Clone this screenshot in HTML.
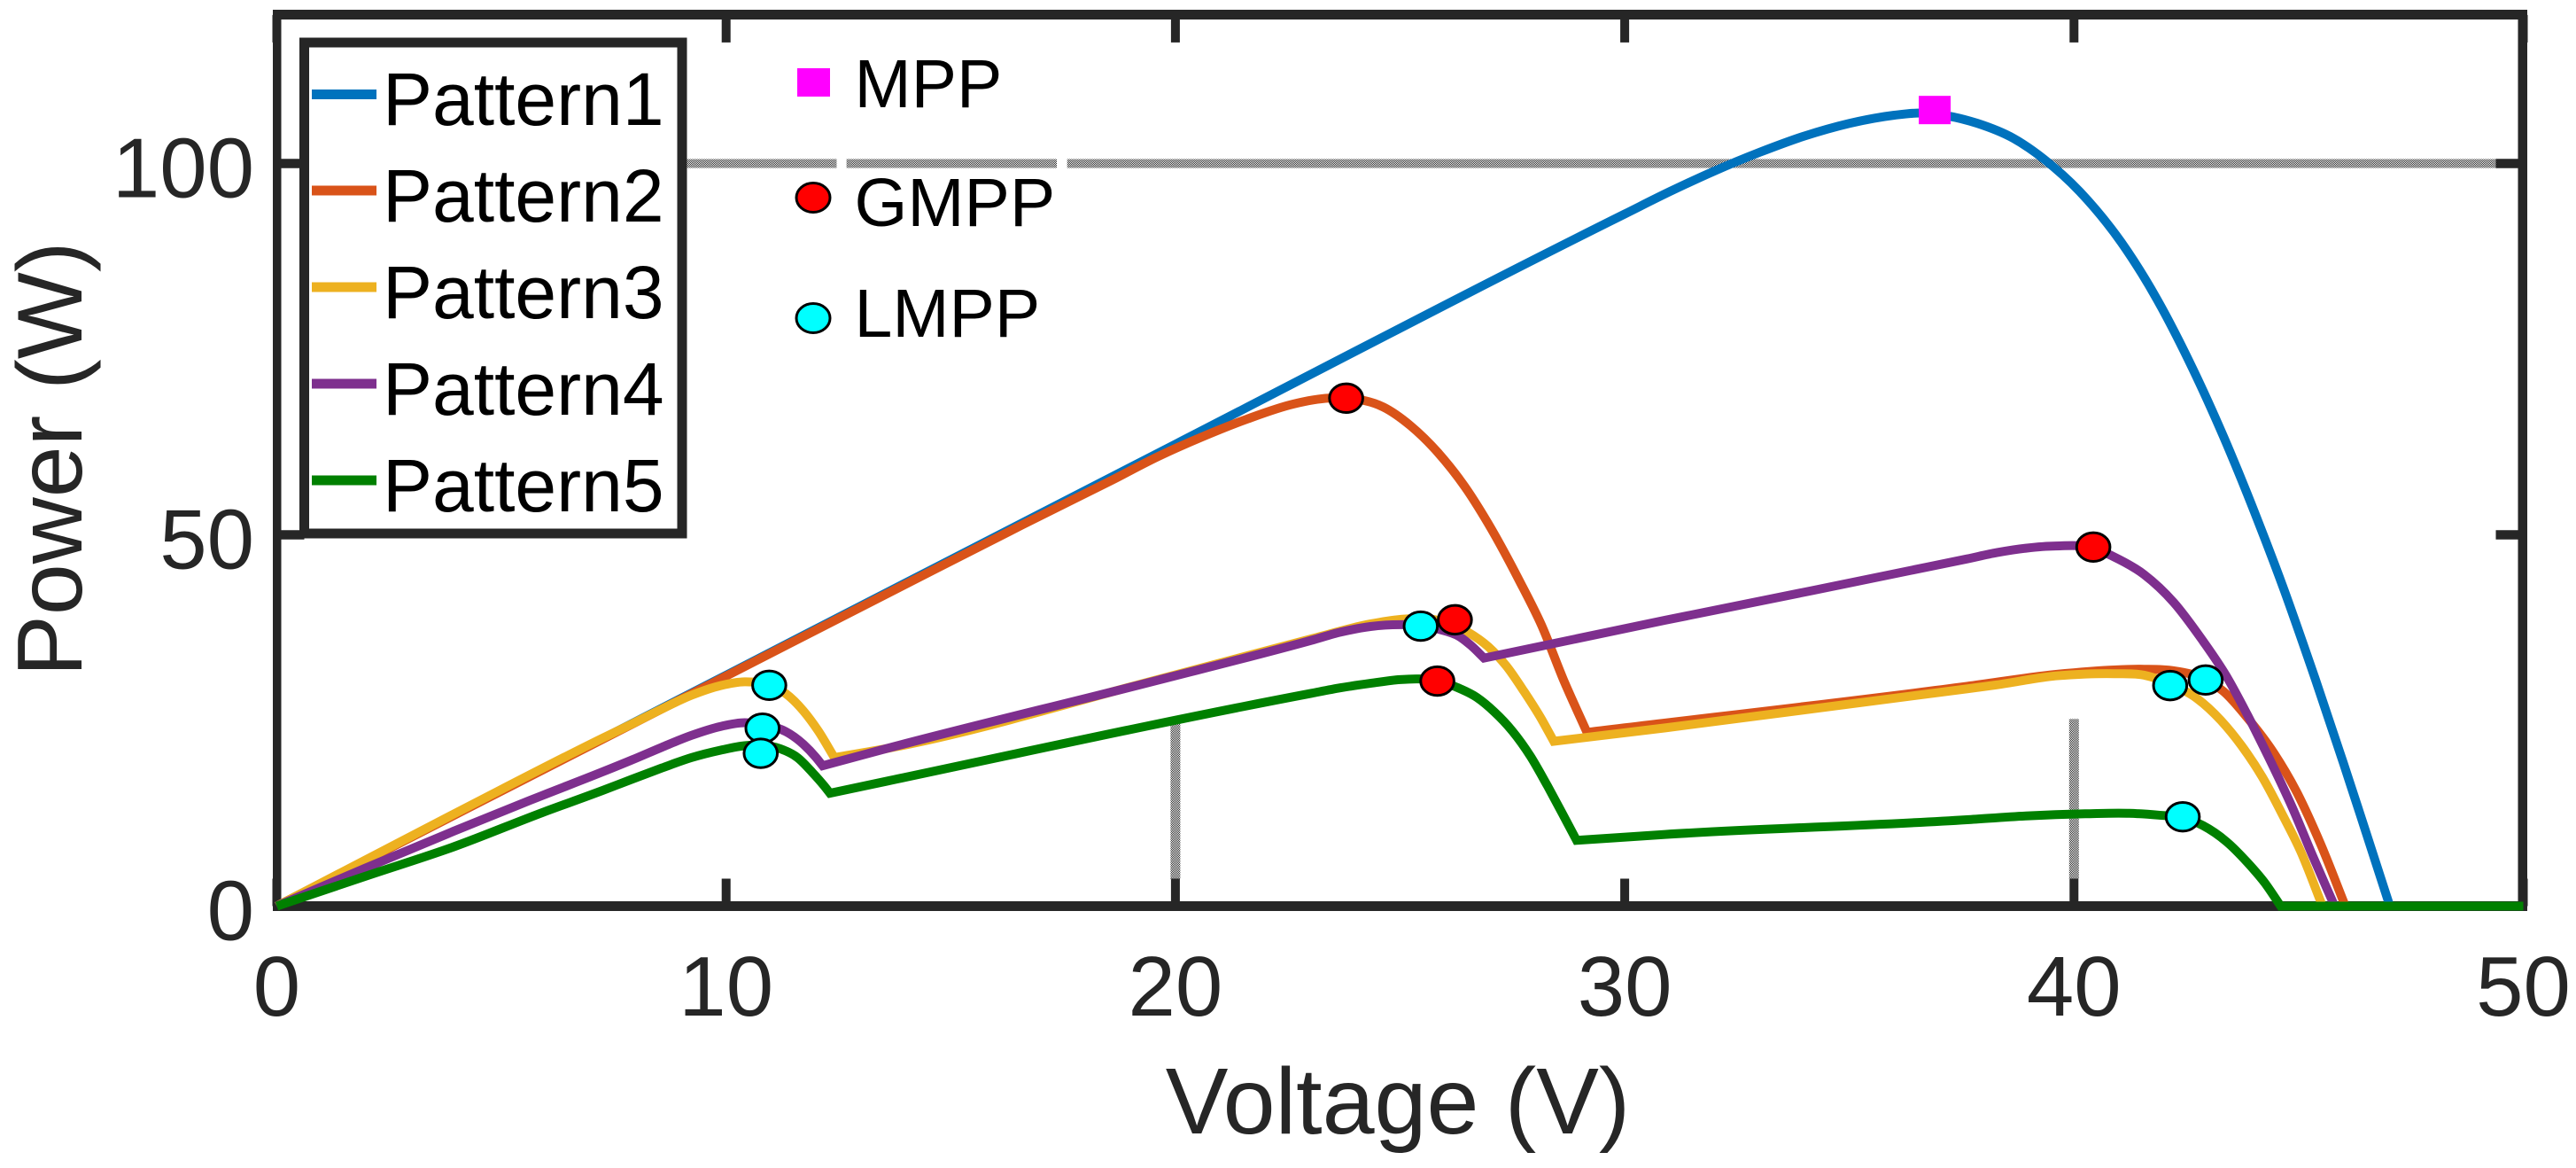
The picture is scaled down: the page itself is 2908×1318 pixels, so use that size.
<!DOCTYPE html>
<html lang="en">
<head>
<meta charset="utf-8">
<title>Power vs Voltage</title>
<style>
html,body{margin:0;padding:0;background:#fff;width:2908px;height:1318px;overflow:hidden}
svg{display:block;font-family:"Liberation Sans",Arial,sans-serif}
</style>
</head>
<body>
<svg id="chart" xmlns="http://www.w3.org/2000/svg" width="2908" height="1318" viewBox="0 0 2908 1318">
<defs>
<pattern id="dither" patternUnits="userSpaceOnUse" width="2" height="2">
<rect width="2" height="2" fill="#fff"/>
<rect width="1" height="1" fill="#262626"/>
<rect x="1" y="1" width="1" height="1" fill="#262626"/>
</pattern>
</defs>
<rect width="2908" height="1318" fill="#fff"/>
<g id="grid"></g>
<g id="ticks"></g>
<g id="frame"></g>
<g id="tickLabels" font-size="96" fill="#262626"></g>
<text x="1578" y="1279" font-size="106" fill="#262626" text-anchor="middle">Voltage (V)</text>
<text transform="translate(92,518) rotate(-90)" font-size="104" fill="#262626" text-anchor="middle">Power (W)</text>
<g id="series"></g>
<g id="markers"></g>
<g>
<rect x="343.5" y="48" width="426.5" height="554" fill="#fff" stroke="#262626" stroke-width="11"/>
<rect x="352" y="101" width="73" height="11" fill="#0072BD"/>
<rect x="352" y="209.5" width="73" height="11" fill="#D95319"/>
<rect x="352" y="318.5" width="73" height="11" fill="#EDB120"/>
<rect x="352" y="427.5" width="73" height="11" fill="#7E2F8E"/>
<rect x="352" y="536.5" width="73" height="11" fill="#008000"/>
<g font-size="84" fill="#000">
<text x="432" y="141">Pattern1</text>
<text x="432" y="250">Pattern2</text>
<text x="432" y="359">Pattern3</text>
<text x="432" y="468">Pattern4</text>
<text x="432" y="577">Pattern5</text>
</g>
</g>
<g>
<rect x="900" y="77" width="37" height="32" fill="#FF00FF"/>
<ellipse cx="918" cy="223" rx="19" ry="16.5" fill="#FF0000" stroke="#000" stroke-width="3"/>
<ellipse cx="918" cy="359" rx="19" ry="16.5" fill="#00FFFF" stroke="#000" stroke-width="3"/>
<g font-size="77" fill="#000">
<text x="964.5" y="121">MPP</text>
<text x="964.5" y="255">GMPP</text>
<text x="964.5" y="380">LMPP</text>
</g>
</g>
</svg>
<script>
const xTicks = [0, 10, 20, 30, 40, 50];
const yTicks = [0, 50, 100];
const xTickLabels = ["0", "10", "20", "30", "40", "50"];
const yTickLabels = ["0", "50", "100"];

const vPattern1 = [0, 10, 20, 30, 31, 32, 33, 34, 35, 36, 36.6, 37.2, 37.85, 38.65, 39.33, 40.13, 41.05, 41.85, 42.64, 43.33, 44.06, 44.68, 45.38, 46, 46.49, 47.03, 50];
const pPattern1 = [0, 31.1, 62.2, 93.2, 96.2, 99, 101.5, 103.7, 105.4, 106.5, 106.8, 106.4, 105.4, 103.4, 100.6, 96.2, 89.4, 81.7, 72.4, 63.2, 52.4, 42.5, 30.4, 19.2, 10.1, 0, 0];
const kinksPattern1 = [47.03];

const vPattern2 = [0, 13.56, 16.58, 18.6, 19.6, 20.6, 21.6, 22.62, 23.42, 23.8, 24.63, 25.23, 25.84, 26.44, 27.04, 27.64, 28.15, 28.65, 29.16, 37.62, 39.6, 40.9, 41.56, 42.22, 42.93, 43.33, 43.86, 44.45, 44.97, 45.5, 46.04, 50];
const pPattern2 = [0, 42, 51.3, 57.4, 60.5, 63.2, 65.6, 67.6, 68.4, 68.4, 67.2, 64.7, 61.1, 56.5, 50.7, 44, 37.8, 30.3, 23.4, 29.6, 31.2, 31.8, 31.9, 31.7, 30.5, 28.9, 25.35, 20.6, 15.2, 8.2, 0, 0];
const kinksPattern2 = [29.16, 46.04];

const vPattern3 = [0, 3.94, 7.26, 7.91, 8.57, 9.23, 9.88, 10.41, 10.96, 11.33, 11.72, 12.05, 12.41, 13.56, 19.6, 23.03, 24.34, 25, 25.6, 26.1, 26.51, 26.97, 27.37, 27.76, 28.15, 28.42, 30.9, 37.62, 38.28, 39.59, 40.25, 40.9, 41.56, 42.14, 42.74, 43.27, 43.73, 44.19, 44.65, 45.04, 45.53, 50];
const pPattern3 = [0, 12.4, 22.65, 24.56, 26.55, 28.4, 29.7, 30.2, 29.74, 28.6, 26.3, 23.6, 20, 21.2, 30.5, 36, 38, 38.6, 38.7, 38.1, 36.9, 34.9, 32.3, 28.9, 25.15, 22.2, 24, 29.26, 29.8, 31, 31.25, 31.3, 31.1, 29.9, 27.95, 25, 21.6, 17.4, 12.2, 7.46, 0, 0];
const kinksPattern3 = [12.41, 28.42, 45.53];

const vPattern4 = [0, 1.96, 3.94, 5.91, 7.26, 7.91, 8.57, 9.23, 9.88, 10.41, 10.81, 11.33, 11.72, 11.99, 12.15, 13.56, 19.6, 23.03, 23.68, 24.34, 25, 25.46, 25.85, 26.32, 26.58, 26.87, 30.9, 37.62, 38.28, 38.93, 39.59, 40.43, 40.9, 41.56, 42.22, 42.87, 43.4, 43.86, 44.32, 44.85, 45.31, 45.8, 50];
const pPattern4 = [0, 5.1, 10.1, 14.9, 18.1, 19.7, 21.4, 23, 24.2, 24.7, 24.4, 23.5, 21.8, 20.1, 18.9, 21.2, 30.4, 35.8, 36.9, 37.65, 37.9, 37.8, 37.3, 36.3, 35.1, 33.4, 38.5, 46.75, 47.6, 48.2, 48.5, 48.2, 47, 44.65, 40.9, 35.7, 30.9, 25.75, 20.2, 13.4, 6.8, 0, 0];
const kinksPattern4 = [12.15, 26.87, 45.8];

const vPattern5 = [0, 1.96, 3.94, 5.91, 7.26, 7.91, 8.57, 9.23, 9.88, 10.41, 10.77, 11.2, 11.59, 11.92, 12.18, 12.31, 13.56, 23.03, 23.68, 24.34, 25, 25.4, 25.83, 26.25, 26.71, 27.1, 27.5, 27.9, 28.28, 28.61, 28.93, 30.9, 37.62, 38.93, 40.25, 41.23, 41.88, 42.42, 42.87, 43.4, 43.86, 44.25, 44.6, 50];
const pPattern5 = [0, 4, 8, 12.6, 15.6, 17.1, 18.6, 20, 21, 21.6, 21.7, 21.2, 20, 18, 16.2, 15.2, 16.8, 28.66, 29.4, 30, 30.5, 30.6, 30.4, 29.5, 28.1, 26.15, 23.57, 20.2, 16.2, 12.5, 8.85, 9.65, 11.63, 12.15, 12.43, 12.5, 12.25, 11.9, 10.85, 8.65, 5.87, 3.1, 0, 0];
const kinksPattern5 = [12.31, 28.93, 44.6];

const mppV = [36.9];
const mppP = [107.2];
const gmppV = [23.8, 26.22, 25.83, 40.43];
const gmppP = [68.4, 38.56, 30.3, 48.35];
const lmppV = [10.96, 10.81, 10.77, 25.46, 42.14, 42.93, 42.42];
const lmppP = [29.74, 23.96, 20.58, 37.7, 29.7, 30.45, 12.03];

const gridY100Starts = [9.13, 12.68, 17.59];
const gridY100Ends = [12.46, 17.36, 49.39];
const gridVerticalV = [20, 40];
const gridVerticalTopP = [25.2, 25.2];

const NS = "http://www.w3.org/2000/svg";
const X0 = 312.5, XU = 50.72, Y0 = 1022.5, YU = 8.38;
function xs(v) { return X0 + XU * v; }
function ys(p) { return Y0 - YU * p; }
function mk(tag, parent) {
  const el = document.createElementNS(NS, tag);
  parent.appendChild(el);
  return el;
}

const gridG = document.getElementById("grid");
gridY100Starts.forEach(function (s, i) {
  const r = mk("rect", gridG);
  
  
  r.setAttribute("x", xs(s));
  r.setAttribute("y", ys(100) - 5);
  r.setAttribute("width", xs(gridY100Ends[i]) - xs(s));
  r.setAttribute("height", 10);
  r.setAttribute("fill", "url(#dither)");
});
gridVerticalV.forEach(function (v, i) {
  const r = mk("rect", gridG);
  
  
  r.setAttribute("x", xs(v) - 5.5);
  r.setAttribute("y", ys(gridVerticalTopP[i]));
  r.setAttribute("width", 11);
  r.setAttribute("height", 992 - ys(gridVerticalTopP[i]));
  r.setAttribute("fill", "url(#dither)");
});

const tickG = document.getElementById("ticks");
const TICK = 31;
xTicks.forEach(function (v) {
  [[Y0 - TICK, TICK], [ys(120), TICK]].forEach(function (t) {
    const r = mk("rect", tickG);
    
    
    r.setAttribute("x", xs(v) - 5);
    r.setAttribute("y", t[0]);
    r.setAttribute("width", 10);
    r.setAttribute("height", t[1]);
    r.setAttribute("fill", "#262626");
  });
});
yTicks.forEach(function (p) {
  [X0, xs(50) - TICK].forEach(function (x) {
    const r = mk("rect", tickG);
    
    
    r.setAttribute("x", x);
    r.setAttribute("y", ys(p) - 5.25);
    r.setAttribute("width", TICK);
    r.setAttribute("height", 10.5);
    r.setAttribute("fill", "#262626");
  });
});

const frameG = document.getElementById("frame");
const box = mk("path", frameG);


box.setAttribute("d", "M308 11H2853V1028H308Z M317.5 22V1017H2842.5V22Z");
box.setAttribute("fill", "#262626");
box.setAttribute("fill-rule", "evenodd");

const labelG = document.getElementById("tickLabels");
xTicks.forEach(function (v, i) {
  const t = mk("text", labelG);
  
  
  t.setAttribute("x", xs(v));
  t.setAttribute("y", 1146);
  t.setAttribute("text-anchor", "middle");
  t.textContent = xTickLabels[i];
});
yTicks.forEach(function (p, i) {
  const t = mk("text", labelG);
  
  
  t.setAttribute("x", 287);
  t.setAttribute("y", ys(p) + 38);
  t.setAttribute("text-anchor", "end");
  t.textContent = yTickLabels[i];
});

/* Smooth cubic through the read points, breaking tangents at kink voltages. */
function curvePath(vs, ps, kinks) {
  let d = "M" + xs(vs[0]).toFixed(1) + " " + ys(ps[0]).toFixed(1);
  const n = vs.length;
  const slopes = [];
  for (let i = 0; i < n - 1; i++) { slopes.push((ps[i + 1] - ps[i]) / (vs[i + 1] - vs[i])); }
  const tanOut = [], tanIn = [];
  for (let i = 0; i < n; i++) {
    if (i === 0) { tanOut[i] = slopes[0]; continue; }
    if (i === n - 1) { tanIn[i] = slopes[n - 2]; continue; }
    if (kinks.indexOf(vs[i]) >= 0) { tanIn[i] = slopes[i - 1]; tanOut[i] = slopes[i]; continue; }
    const h0 = vs[i] - vs[i - 1], h1 = vs[i + 1] - vs[i];
    const m = (h0 * slopes[i] + h1 * slopes[i - 1]) / (h0 + h1);
    tanIn[i] = m; tanOut[i] = m;
  }
  for (let i = 0; i < n - 1; i++) {
    const h = vs[i + 1] - vs[i];
    const c1x = xs(vs[i] + h / 3), c1y = ys(ps[i] + tanOut[i] * h / 3);
    const c2x = xs(vs[i + 1] - h / 3), c2y = ys(ps[i + 1] - tanIn[i + 1] * h / 3);
    d += "C" + c1x.toFixed(1) + " " + c1y.toFixed(1) + " " + c2x.toFixed(1) + " " + c2y.toFixed(1) + " " + xs(vs[i + 1]).toFixed(1) + " " + ys(ps[i + 1]).toFixed(1);
  }
  return d;
}

const seriesG = document.getElementById("series");
function drawCurve(name, color, vs, ps, kinks) {
  const l = mk("path", seriesG);
  
  
  l.setAttribute("d", curvePath(vs, ps, kinks));
  l.setAttribute("fill", "none");
  l.setAttribute("stroke", color);
  l.setAttribute("stroke-width", 10);
  l.setAttribute("stroke-linejoin", "miter");
}
drawCurve("curve-pattern1", "#0072BD", vPattern1, pPattern1, kinksPattern1);
drawCurve("curve-pattern2", "#D95319", vPattern2, pPattern2, kinksPattern2);
drawCurve("curve-pattern3", "#EDB120", vPattern3, pPattern3, kinksPattern3);
drawCurve("curve-pattern4", "#7E2F8E", vPattern4, pPattern4, kinksPattern4);
drawCurve("curve-pattern5", "#008000", vPattern5, pPattern5, kinksPattern5);

const markerG = document.getElementById("markers");
lmppV.forEach(function (v, i) {
  const e = mk("ellipse", markerG);
  
  
  e.setAttribute("cx", xs(v));
  e.setAttribute("cy", ys(lmppP[i]));
  e.setAttribute("rx", 18.8);
  e.setAttribute("ry", 16.2);
  e.setAttribute("fill", "#00FFFF");
  e.setAttribute("stroke", "#000");
  e.setAttribute("stroke-width", 3);
});
gmppV.forEach(function (v, i) {
  const e = mk("ellipse", markerG);
  
  
  e.setAttribute("cx", xs(v));
  e.setAttribute("cy", ys(gmppP[i]));
  e.setAttribute("rx", 18.8);
  e.setAttribute("ry", 16.2);
  e.setAttribute("fill", "#FF0000");
  e.setAttribute("stroke", "#000");
  e.setAttribute("stroke-width", 3);
});
mppV.forEach(function (v, i) {
  const r = mk("rect", markerG);
  
  
  r.setAttribute("x", xs(v) - 18);
  r.setAttribute("y", ys(mppP[i]) - 16);
  r.setAttribute("width", 36);
  r.setAttribute("height", 32);
  r.setAttribute("fill", "#FF00FF");
});
</script>
</body>
</html>
